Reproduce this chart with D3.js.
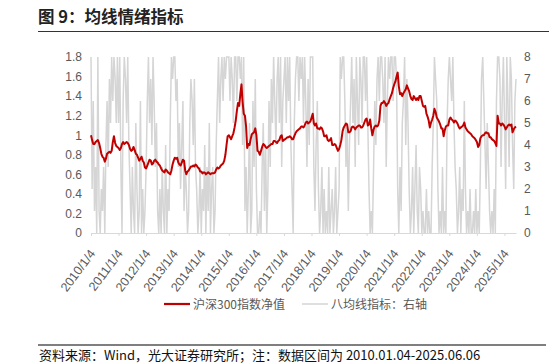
<!DOCTYPE html>
<html>
<head>
<meta charset="utf-8">
<script src="https://cdn.jsdelivr.net/npm/d3@7/dist/d3.min.js"></script>
<style>
  body { margin: 0; background: #fff; }
  text { font-family: "Noto Sans CJK SC", "Noto Sans", sans-serif; }
</style>
</head>
<body>
<svg id="chart" width="549" height="364"></svg>
<script>
// data range 2010-01-04 .. 2025-06-06, one point roughly every half month
var startDate = new Date(2010, 0, 4);
var endDate = new Date(2025, 5, 6);

// 沪深300指数净值 (left axis)
var hs300 = [
  // 2010
  1.00,0.95,0.91,0.91,0.93,0.94,0.95,0.92,0.87,0.81,0.78,0.77,0.73,0.76,0.81,0.82,0.83,0.82,0.84,0.93,0.99,0.92,0.89,0.88,
  // 2011
  0.87,0.85,0.87,0.91,0.93,0.91,0.92,0.93,0.92,0.90,0.86,0.84,0.85,0.88,0.85,0.81,0.80,0.77,0.74,0.76,0.78,0.74,0.72,0.67,
  // 2012
  0.66,0.69,0.72,0.75,0.74,0.70,0.71,0.74,0.75,0.73,0.72,0.70,0.69,0.66,0.64,0.63,0.62,0.65,0.64,0.62,0.61,0.60,0.64,0.70,
  // 2013
  0.74,0.77,0.76,0.77,0.72,0.70,0.69,0.72,0.75,0.74,0.64,0.60,0.63,0.64,0.66,0.68,0.68,0.69,0.68,0.70,0.69,0.67,0.66,0.63,
  // 2014
  0.63,0.61,0.62,0.62,0.60,0.61,0.62,0.61,0.60,0.61,0.61,0.61,0.62,0.65,0.67,0.66,0.67,0.69,0.70,0.71,0.74,0.80,0.90,0.99,
  // 2015
  1.00,0.98,0.96,0.99,1.02,1.08,1.15,1.25,1.33,1.30,1.42,1.52,1.34,1.22,1.20,1.09,0.87,0.91,0.90,0.96,1.01,1.02,1.03,1.07,
  // 2016
  1.00,0.84,0.83,0.80,0.84,0.88,0.91,0.90,0.88,0.87,0.88,0.89,0.90,0.91,0.91,0.94,0.94,0.93,0.92,0.94,0.95,0.99,1.00,0.94,
  // 2017
  0.95,0.96,0.97,0.98,0.98,0.99,0.98,0.96,0.96,0.99,1.02,1.04,1.05,1.06,1.07,1.09,1.09,1.08,1.10,1.13,1.14,1.12,1.13,1.14,
  // 2018
  1.18,1.22,1.12,1.10,1.12,1.07,1.07,1.06,1.08,1.07,1.04,0.99,0.99,1.00,0.95,0.94,0.95,0.97,0.90,0.90,0.91,0.90,0.87,0.84,
  // 2019
  0.86,0.90,0.95,1.04,1.08,1.10,1.12,1.11,1.03,1.03,1.04,1.08,1.09,1.08,1.06,1.08,1.09,1.10,1.10,1.08,1.08,1.10,1.13,1.16,
  // 2020
  1.17,1.10,1.11,1.16,1.07,1.00,1.06,1.09,1.10,1.09,1.10,1.15,1.30,1.33,1.33,1.35,1.33,1.30,1.32,1.33,1.37,1.40,1.43,1.48,
  // 2021
  1.52,1.55,1.60,1.64,1.50,1.42,1.43,1.40,1.43,1.45,1.47,1.51,1.48,1.45,1.40,1.37,1.36,1.40,1.38,1.36,1.38,1.36,1.40,1.40,
  // 2022
  1.35,1.30,1.29,1.30,1.22,1.19,1.15,1.08,1.13,1.16,1.20,1.27,1.24,1.18,1.16,1.14,1.11,1.07,1.07,0.99,1.05,1.09,1.10,1.10,
  // 2023
  1.16,1.18,1.16,1.15,1.13,1.15,1.14,1.12,1.09,1.07,1.08,1.09,1.10,1.13,1.08,1.06,1.04,1.03,1.02,1.01,0.99,0.98,0.97,0.95,
  // 2024
  0.93,0.88,0.90,0.97,0.99,1.00,1.00,1.02,1.03,1.02,1.02,0.98,0.98,0.96,0.95,0.94,0.92,0.89,1.20,1.12,1.12,1.10,1.12,1.11,
  // 2025
  1.09,1.06,1.08,1.10,1.11,1.10,1.11,1.03,1.06,1.08,1.09
];

// 八均线指标 (right axis)
var baJunXian = [
  // 2010
  8,2,6,1,3,0,8,1,0,2,1,3,0,4,6,3,7,5,8,6,8,7,5,8,
  // 2011
  5,8,3,0,6,8,7,5,8,4,2,0,3,1,0,5,2,0,1,6,0,2,0,1,
  // 2012
  3,6,8,5,7,4,8,6,3,5,1,0,2,0,3,1,0,4,0,2,1,5,8,7,
  // 2013
  8,8,6,7,3,5,2,4,6,1,3,2,0,1,5,7,6,4,7,3,2,0,1,3,
  // 2014
  0,2,1,4,0,3,1,5,0,2,3,0,1,4,6,8,5,7,8,6,8,7,8,8,
  // 2015
  8,6,8,7,5,8,8,6,8,8,7,8,4,8,1,3,0,2,5,0,1,6,3,7,
  // 2016
  2,0,0,1,0,3,5,1,4,0,2,6,3,7,5,8,6,4,7,8,5,8,3,6,
  // 2017
  7,8,5,8,6,8,4,2,0,5,7,8,8,6,8,7,8,5,8,6,3,7,4,8,
  // 2018
  8,8,3,1,4,6,2,0,1,3,0,2,0,1,0,3,0,1,2,0,1,3,0,1,
  // 2019
  2,8,7,8,8,6,3,5,1,4,6,8,5,7,3,8,6,4,8,7,5,8,8,6,
  // 2020
  8,5,2,0,1,0,3,6,4,7,8,6,8,8,7,5,8,3,6,8,7,8,8,6,
  // 2021
  8,8,7,2,0,3,1,5,6,8,4,7,5,2,0,1,3,0,2,4,1,0,3,2,
  // 2022
  0,1,0,0,2,0,1,0,0,3,5,8,7,6,2,0,1,0,3,0,1,0,5,7,
  // 2023
  8,7,6,8,5,3,2,0,1,3,0,2,1,6,2,0,1,0,2,0,0,1,0,2,
  // 2024
  0,1,0,3,7,8,6,4,2,5,3,1,0,1,0,2,0,6,8,8,7,3,6,8,
  // 2025
  5,2,8,6,3,8,7,4,2,6,7
];

var yearTicks = ['2010/1/4','2011/1/4','2012/1/4','2013/1/4','2014/1/4','2015/1/4','2016/1/4','2017/1/4',
                 '2018/1/4','2019/1/4','2020/1/4','2021/1/4','2022/1/4','2023/1/4','2024/1/4','2025/1/4'];
var leftTicks = [0, 0.2, 0.4, 0.6, 0.8, 1, 1.2, 1.4, 1.6, 1.8];
var rightTicks = [0, 1, 2, 3, 4, 5, 6, 7, 8];

var red = '#C00000';
var grey = '#d5d5d5';
var labelColor = '#595959';

var svg = d3.select('#chart');

// title + rule
svg.append('text')
   .attr('x', 38).attr('y', 23)
   .style('font-size', '16.5px').style('font-weight', 'bold').style('fill', '#222')
   .text('图 9：均线情绪指标');
svg.append('line')
   .attr('x1', 38).attr('x2', 549).attr('y1', 31.5).attr('y2', 31.5)
   .style('stroke', '#333').style('stroke-width', 1.2);

var plotL = 91, plotR = 516, plotT = 57, plotB = 233;

var n = hs300.length;
var stepDays = (endDate - startDate) / 864e5 / (n - 1);
function dateAt(i) { return d3.timeDay.offset(startDate, Math.round(i * stepDays)); }

var x = d3.scaleTime().domain([startDate, endDate]).range([plotL, plotR]);
var yL = d3.scaleLinear().domain([0, 1.8]).range([plotB, plotT]);
var yR = d3.scaleLinear().domain([0, 8]).range([plotB, plotT]);

// left axis
var leftAxis = svg.append('g')
   .attr('transform', 'translate(' + (plotL - 2) + ',0)')
   .call(d3.axisLeft(yL).tickValues(leftTicks).tickSize(0).tickPadding(7)
         .tickFormat(function(d) { return d3.format('~g')(d); }));
leftAxis.select('.domain').remove();

// right axis
var rightAxis = svg.append('g')
   .attr('transform', 'translate(' + plotR + ',0)')
   .call(d3.axisRight(yR).tickValues(rightTicks).tickSize(0).tickPadding(8));
rightAxis.select('.domain').remove();

[leftAxis, rightAxis].forEach(function(g) {
  g.selectAll('text').style('font-size', '12px').style('fill', labelColor)
   .style('font-family', '"Liberation Sans", "Noto Sans", sans-serif');
});

// grey series (right axis)
var greyLine = d3.line()
   .x(function(d, i) { return x(dateAt(i)); })
   .y(function(d) { return yR(d); });
svg.append('path')
   .datum(baJunXian)
   .attr('d', greyLine)
   .style('fill', 'none').style('stroke', grey).style('stroke-width', 1.5);

// x axis
var tickDates = yearTicks.map(function(s) {
  var p = s.split('/');
  return new Date(+p[0], +p[1] - 1, +p[2]);
});
var xAxis = svg.append('g')
   .attr('transform', 'translate(0,' + plotB + ')')
   .call(d3.axisBottom(x).tickValues(tickDates).tickSize(3).tickSizeOuter(0)
         .tickFormat(function(d, i) { return yearTicks[i]; }));
xAxis.select('.domain').style('stroke', '#d9d9d9');
xAxis.selectAll('.tick line').style('stroke', '#d9d9d9');
xAxis.selectAll('text')
   .style('font-size', '12.5px').style('fill', labelColor)
   .style('font-family', '"Liberation Sans", "Noto Sans", sans-serif')
   .style('text-anchor', 'end')
   .attr('x', 0).attr('y', 0).attr('dy', '0.35em')
   .attr('transform', 'translate(1,18) rotate(-53)');

// red series (left axis)
var redLine = d3.line()
   .x(function(d, i) { return x(dateAt(i)); })
   .y(function(d) { return yL(d); });
svg.append('path')
   .datum(hs300)
   .attr('d', redLine)
   .style('fill', 'none').style('stroke', red).style('stroke-width', 2)
   .style('stroke-linejoin', 'round');

// legend
var legend = [
  {label: '沪深300指数净值', color: red, width: 2.2, x: 164},
  {label: '八均线指标：右轴', color: grey, width: 1.5, x: 302}
];
var lg = svg.selectAll('.legend').data(legend).enter().append('g').attr('class', 'legend');
lg.append('line')
   .attr('x1', function(d) { return d.x; }).attr('x2', function(d) { return d.x + 26; })
   .attr('y1', 304).attr('y2', 304)
   .style('stroke', function(d) { return d.color; })
   .style('stroke-width', function(d) { return d.width; });
lg.append('text')
   .attr('x', function(d) { return d.x + 29; }).attr('y', 308.5)
   .style('font-size', '12px').style('fill', labelColor)
   .text(function(d) { return d.label; });

// source note
svg.append('line')
   .attr('x1', 38).attr('x2', 546).attr('y1', 345).attr('y2', 345)
   .style('stroke', '#555').style('stroke-width', 1.3);
svg.append('text')
   .attr('x', 39).attr('y', 360)
   .style('font-size', '13px').style('fill', '#111')
   .text('资料来源：Wind，光大证券研究所；注：数据区间为 2010.01.04-2025.06.06');
</script>
</body>
</html>
